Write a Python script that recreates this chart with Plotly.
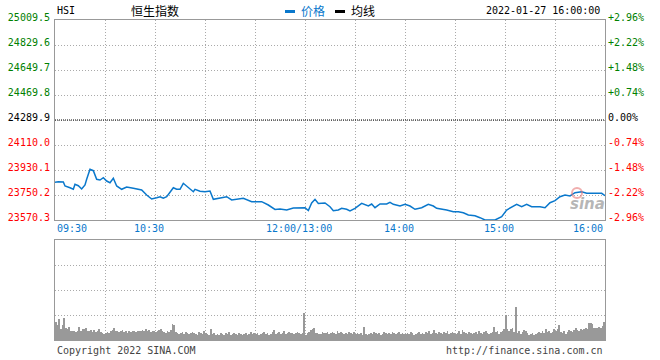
import plotly.graph_objects as go

# ---------------- data ----------------
times = ["09:30","09:32","09:35","09:36","09:39","09:41","09:42","09:44","09:46","09:48",
         "09:49","09:51","09:53","09:55","09:57","09:59","10:01","10:03","10:05","10:07",
         "10:10","10:13","10:17","10:22","10:25","10:28","10:31","10:33","10:35","10:37",
         "10:39","10:41","10:43","10:45","10:47","10:49","10:51","10:53","10:54","10:57",
         "11:00","11:03","11:05","11:09","11:13","11:16","11:19","11:23","11:28","11:34",
         "11:38","11:42","11:45","11:49","11:53","11:57","12:00","13:02","13:04","13:06",
         "13:08","13:12","13:15","13:17","13:20","13:22","13:25","13:27","13:30","13:34",
         "13:36","13:38","13:40","13:42","13:45","13:49","13:51","13:53","13:57","14:00",
         "14:03","14:06","14:10","14:14","14:17","14:19","14:25","14:29","14:32","14:35",
         "14:38","14:42","14:45","14:48","14:54","14:58","15:01","15:04","15:07","15:10",
         "15:13","15:16","15:21","15:24","15:27","15:30","15:33","15:36","15:39","15:42",
         "15:46","15:49","15:53","15:56","15:58","16:00"]
prices = [23841.6,23845.9,23843.7,23815.0,23802.7,23791.2,23827.2,23817.1,23793.4,23822.2,
          23863.2,23935.1,23925.1,23863.2,23858.1,23874.7,23850.9,23838.7,23870.4,23815.0,
          23791.2,23807.8,23798.4,23786.2,23750.2,23721.4,23730.8,23738.0,23726.5,23738.0,
          23769.6,23802.7,23791.2,23791.2,23834.4,23815.0,23791.2,23773.9,23791.2,23776.8,
          23773.9,23779.0,23719.3,23726.5,23738.0,23714.2,23719.3,23726.5,23702.0,23702.0,
          23678.2,23645.9,23649.5,23642.3,23656.7,23658.8,23658.8,23638.7,23692.6,23719.3,
          23689.0,23692.6,23666.0,23637.2,23642.3,23654.5,23647.3,23635.1,23654.5,23690.5,
          23683.3,23671.0,23685.4,23658.8,23685.4,23685.4,23697.7,23683.3,23671.0,23683.3,
          23671.0,23647.3,23658.8,23683.3,23671.0,23654.5,23642.3,23630.0,23630.0,23622.8,
          23606.3,23601.2,23586.9,23570.3,23570.3,23594.0,23642.3,23666.0,23683.3,23666.0,
          23683.3,23666.0,23666.0,23658.8,23694.8,23709.2,23738.0,23750.2,23743.0,23766.7,
          23773.9,23762.4,23762.4,23762.4,23762.4,23745.2]

# per-minute volume (relative units), one row per half hour
vol_0930 = [18,15,21,11,15,22,12,11,13,9, 9,9,8,9,13,9,11,11,12,9, 9,10,8,10,8,9,11,8,7,6]
vol_1000 = [7,8,7,9,10,12,9,9,8,9, 10,8,9,7,9,8,9,9,8,9, 9,9,10,9,11,9,10,8,9,9]
vol_1030 = [8,9,10,11,9,8,7,9,8,10, 16,15,8,7,6,7,8,6,8,7, 6,7,8,7,6,5,8,7,6,9]
vol_1100 = [7,6,5,11,6,7,5,6,5,7, 6,5,7,6,8,5,6,7,6,5, 7,6,5,6,7,5,6,8,6,7]
vol_1130 = [6,7,5,6,7,8,6,7,5,6, 8,10,6,7,8,6,7,9,6,7, 8,7,7,6,7,8,7,6,7,27]
vol_1300 = [5,7,8,10,11,12,7,7,6,6, 8,7,7,8,6,7,8,7,6,9, 7,8,7,6,7,6,8,7,6,8]
vol_1330 = [6,7,6,7,5,13,6,5,6,7, 6,8,7,6,7,5,6,8,7,6, 7,6,8,7,6,7,8,6,7,6]
vol_1400 = [6,7,6,8,7,5,6,7,8,6, 7,6,8,7,9,6,7,10,7,6, 8,7,6,8,7,9,6,7,8,7]
vol_1430 = [6,7,9,6,10,8,7,6,8,7, 6,7,8,6,9,7,6,8,9,7, 6,7,8,13,8,9,6,8,9,11]
vol_1500 = [25,11,9,11,12,8,33,7,9,6, 8,10,9,7,5,6,7,5,6,7, 8,7,9,7,11,8,9,7,8,11]
vol_1530 = [9,11,15,8,7,9,6,8,10,9, 8,10,12,10,9,11,10,11,12,11, 17,17,16,12,12,12,13,12,14,18]

PREV_CLOSE = 24289.9
y_ticks = [25009.5, 24829.6, 24649.7, 24469.8, 24289.9, 24110.0, 23930.1, 23750.2, 23570.3]
pct_labels = ["+2.96%", "+2.22%", "+1.48%", "+0.74%", "0.00%", "-0.74%", "-1.48%", "-2.22%", "-2.96%"]
x_tick_labels = ["09:30", "10:30", "12:00/13:00", "14:00", "15:00", "16:00"]

# ---------------- helpers ----------------
def tidx(t):
    h, m = map(int, t.split(":"))
    mins = h * 60 + m
    return mins - 570 if mins <= 720 else mins - 780 + 150

volumes = vol_0930 + vol_1000 + vol_1030 + vol_1100 + vol_1130 + vol_1300 + vol_1330 + vol_1400 + vol_1430 + vol_1500 + vol_1530
vol_x = [k + 0.5 for k in range(len(volumes))]
px = [tidx(t) for t in times]

GREEN, RED, BLACK = "#008000", "#ff0000", "#000000"
BLUE = "#0a78cc"
def tick_color(v):
    return GREEN if v > PREV_CLOSE + 1e-6 else (RED if v < PREV_CLOSE - 1e-6 else BLACK)

left_text = [f'<span style="color:{tick_color(v)}">{v:.1f}</span>' for v in y_ticks]
right_text = [f'<span style="color:{tick_color(v)}">{p}</span>' for v, p in zip(y_ticks, pct_labels)]

MONO = "DejaVu Sans Mono"
CJK = "Noto Sans CJK SC"
GRID = dict(showgrid=True, gridcolor="#aaaaaa", gridwidth=1, griddash="1px,2px")
BORDER = dict(showline=True, mirror=True, linecolor="#999999", linewidth=1)
grid_x = list(range(0, 331, 30))

fig = go.Figure()
fig.add_trace(go.Scatter(x=px, y=prices, mode="lines", line=dict(color=BLUE, width=1.5),
                         xaxis="x", yaxis="y", hoverinfo="skip"))
fig.add_trace(go.Scatter(x=[None], y=[None], xaxis="x", yaxis="y2", showlegend=False))
fig.add_trace(go.Bar(x=vol_x, y=volumes, width=0.6, marker=dict(color="#999999", line_width=0),
                     xaxis="x2", yaxis="y3", hoverinfo="skip"))

fig.update_layout(
    width=660, height=360, autosize=False,
    margin=dict(l=55, r=55, t=20, b=20, autoexpand=False),
    paper_bgcolor="white", plot_bgcolor="white",
    showlegend=False, bargap=0,
    xaxis=dict(domain=[0, 1], range=[0, 330], anchor="y", tickvals=grid_x, showticklabels=False,
               zeroline=False, ticks="", automargin=False, **GRID, **BORDER),
    yaxis=dict(domain=[0.375, 1], range=[y_ticks[-1], y_ticks[0]], anchor="x",
               tickvals=y_ticks, ticktext=left_text, ticks="", ticklabelstandoff=2, ticklabelshift=-3,
               tickfont=dict(family=MONO, size=10), zeroline=False, automargin=False, **GRID, **BORDER),
    yaxis2=dict(overlaying="y", side="right", anchor="x", range=[y_ticks[-1], y_ticks[0]],
                tickvals=y_ticks, ticktext=right_text, ticks="", ticklabelstandoff=2, ticklabelshift=-3,
                tickfont=dict(family=MONO, size=10), showgrid=False, zeroline=False, showline=False,
                automargin=False),
    xaxis2=dict(domain=[0, 1], range=[0, 330], anchor="y3", tickvals=grid_x, showticklabels=False,
                zeroline=False, ticks="", automargin=False, **GRID, **BORDER),
    yaxis3=dict(domain=[0, 0.3125], range=[0, 100], anchor="x2", tickvals=[25, 50, 75],
                showticklabels=False, zeroline=False, ticks="", automargin=False, **GRID, **BORDER),
)

# previous close dashed line
fig.add_shape(type="line", xref="paper", x0=0, x1=1, yref="y", y0=PREV_CLOSE, y1=PREV_CLOSE,
              line=dict(color="black", width=1, dash="1px,1px"))

# x tick labels
label_y = (340 - 228) / 320
n = len(x_tick_labels)
for i, lab in enumerate(x_tick_labels):
    pos = tidx(lab.split("/")[0])
    if i == 0:
        anc, shift = "left", 0
    elif i == n - 1:
        anc, shift = "right", 0
    else:
        anc, shift = "center", -6
    fig.add_annotation(x=pos, xref="x", y=label_y, yref="paper", text=lab, showarrow=False,
                       xanchor=anc, yanchor="middle", xshift=shift,
                       font=dict(family=MONO, size=10, color=BLUE))

def pxx(p):
    return (p - 55) / 550
def pxy(p):
    return (340 - p) / 320

top_y = pxy(10)
fig.add_annotation(x=0, xref="paper", y=top_y, yref="paper", text="HSI", showarrow=False,
                   xanchor="left", yanchor="middle", font=dict(family=MONO, size=10, color="black"))
fig.add_annotation(x=pxx(154.5), xref="paper", y=top_y, yref="paper", text="恒生指数", showarrow=False,
                   xanchor="center", yanchor="middle", font=dict(family=CJK, size=12, color="black"))
fig.add_shape(type="rect", xref="paper", yref="paper", x0=pxx(285), x1=pxx(295), y0=pxy(13), y1=pxy(10),
              fillcolor=BLUE, line_width=0)
fig.add_annotation(x=pxx(312.5), xref="paper", y=top_y, yref="paper", text="价格", showarrow=False,
                   xanchor="center", yanchor="middle", font=dict(family=CJK, size=12, color=BLUE))
fig.add_shape(type="rect", xref="paper", yref="paper", x0=pxx(335), x1=pxx(345), y0=pxy(13), y1=pxy(10),
              fillcolor="black", line_width=0)
fig.add_annotation(x=pxx(362.5), xref="paper", y=top_y, yref="paper", text="均线", showarrow=False,
                   xanchor="center", yanchor="middle", font=dict(family=CJK, size=12, color="black"))
fig.add_annotation(x=pxx(602), xref="paper", y=top_y, yref="paper", text="2022-01-27 16:00:00",
                   showarrow=False, xanchor="right", yanchor="middle",
                   font=dict(family=MONO, size=10, color="black"))

# footer
fig.add_annotation(x=0, xref="paper", y=pxy(350), yref="paper", text="Copyright 2022 SINA.COM",
                   showarrow=False, xanchor="left", yanchor="middle",
                   font=dict(family=MONO, size=10, color="#444444"))
fig.add_annotation(x=1, xref="paper", y=pxy(350), yref="paper", text="http://finance.sina.com.cn",
                   showarrow=False, xanchor="right", yanchor="middle",
                   font=dict(family=MONO, size=10, color="#444444"))

# sina watermark
fig.add_shape(type="circle", xref="paper", yref="paper", x0=pxx(572), x1=pxx(582), y0=pxy(198), y1=pxy(188),
              line=dict(color="rgba(230,120,120,0.6)", width=2))
fig.add_annotation(x=pxx(587), xref="paper", y=pxy(204), yref="paper", text="<b><i>sina</i></b>",
                   showarrow=False, xanchor="center", yanchor="middle",
                   font=dict(family="DejaVu Sans", size=15, color="rgba(150,150,150,0.7)"))

fig.write_html("out.html", config={"displayModeBar": False},
               post_script="document.body.style.margin='0';document.body.style.padding='0';")
